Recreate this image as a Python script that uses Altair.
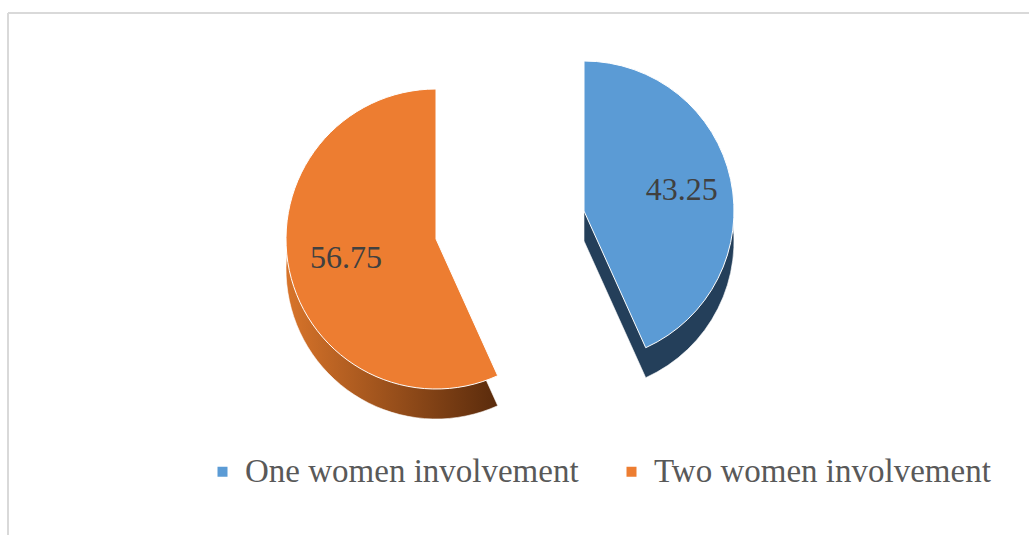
import altair as alt
import pandas as pd

# ---- data ----
categories = ["One women involvement", "Two women involvement"]
values = [43.25, 56.75]
labels = ["43.25", "56.75"]
top_colors = ["#5B9BD5", "#ED7D31"]

df = pd.DataFrame({"category": categories, "value": values, "label": labels})
df["end"] = df["value"].cumsum()
df["start"] = df["end"] - df["value"]
df["mid"] = (df["start"] + df["end"]) / 2

W, H = 1021, 522
CX, CY = 502, 212  # pie centre in plot coordinates
R = 150
DEPTH = 30
explode = {categories[0]: (74, -14), categories[1]: (-74, 14)}
label_radius = {categories[0]: 100, categories[1]: 92}

theta_scale = alt.Scale(domain=[0, 100])
color_scale = alt.Scale(domain=categories, range=top_colors)

base = alt.Chart(df)

orange_side = alt.LinearGradient(
    gradient="linear",
    stops=[alt.GradientStop(color="#D8742A", offset=0),
           alt.GradientStop(color="#5A2B0C", offset=1)],
    x1=0, x2=1, y1=0, y2=0,
)
side_fill = {categories[0]: "#243F5A", categories[1]: orange_side}

SERIF = "Liberation Serif"

layers = []
# side (depth) layers
for cat in categories:
    dx, dy = explode[cat]
    layers.append(
        base.transform_filter(alt.datum.category == cat)
        .mark_arc(radius=R, xOffset=dx, yOffset=dy + DEPTH, color=side_fill[cat],
                  stroke="white", strokeWidth=0.6)
        .encode(theta=alt.Theta("start:Q", scale=theta_scale), theta2="end:Q",
                x=alt.value(CX), y=alt.value(CY))
    )
# top faces
for cat in categories:
    dx, dy = explode[cat]
    layers.append(
        base.transform_filter(alt.datum.category == cat)
        .mark_arc(radius=R, xOffset=dx, yOffset=dy, stroke="white", strokeWidth=1)
        .encode(theta=alt.Theta("start:Q", scale=theta_scale), theta2="end:Q",
                x=alt.value(CX), y=alt.value(CY),
                color=alt.Color("category:N", scale=color_scale,
                                legend=alt.Legend(title=None, orient="none",
                                                  direction="horizontal",
                                                  legendX=198, legendY=442,
                                                  symbolType="square", symbolSize=100,
                                                  symbolStrokeWidth=0,
                                                  labelFont=SERIF,
                                                  labelFontSize=33, labelColor="#595959",
                                                  labelOffset=6, columnPadding=36,
                                                  labelLimit=500)))
    )
# value labels
for cat in categories:
    dx, dy = explode[cat]
    layers.append(
        base.transform_filter(alt.datum.category == cat)
        .mark_text(radius=label_radius[cat], xOffset=dx, yOffset=dy, font=SERIF,
                   fontSize=32, color="#404040")
        .encode(theta=alt.Theta("mid:Q", scale=theta_scale), text="label:N",
                x=alt.value(CX), y=alt.value(CY))
    )
# chart border (top and left edges visible)
border_top = alt.Chart(df).mark_rule(color="#D9D9D9", strokeWidth=2).encode(
    x=alt.value(0), x2=alt.value(W + 10), y=alt.value(0))
border_left = alt.Chart(df).mark_rule(color="#D9D9D9", strokeWidth=2).encode(
    x=alt.value(0), y=alt.value(0), y2=alt.value(H + 10))
layers += [border_top, border_left]

chart = alt.layer(*layers).properties(
    width=W, height=H, autosize="none",
    padding={"left": 8, "top": 13, "right": 0, "bottom": 0},
    background="white",
).configure_view(stroke=None)

chart.save("out.html", embed_options={"renderer": "svg", "actions": False})
